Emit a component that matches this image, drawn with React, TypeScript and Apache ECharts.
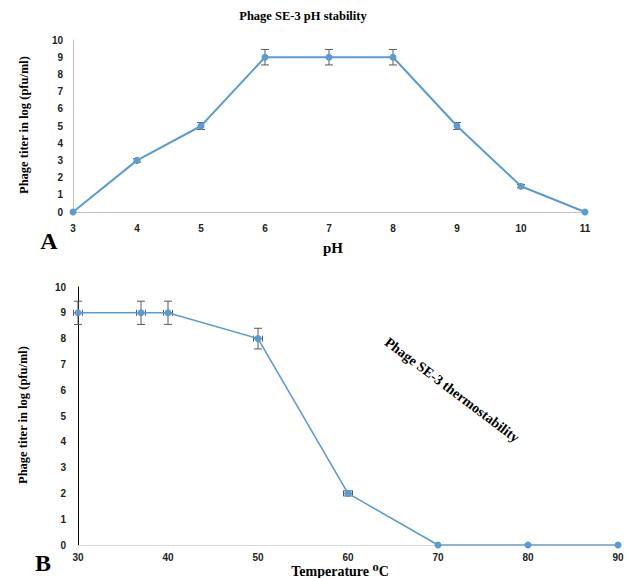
import React, { useEffect, useRef } from "react";
import * as echarts from "echarts";

const phLevels = [3, 4, 5, 6, 7, 8, 9, 10, 11];
const phTiter = [0, 3, 5, 9, 9, 9, 5, 1.5, 0];
const phErr = [0, 0.1, 0.2, 0.45, 0.45, 0.45, 0.2, 0.1, 0];

const temps = [30, 37, 40, 50, 60, 70, 80, 90];
const tempTiter = [9, 9, 9, 8, 2, 0, 0, 0];
const tempErrY = [0.45, 0.45, 0.45, 0.4, 0.1, 0, 0, 0];
const tempErrX = [0.5, 0.5, 0.5, 0.5, 0.5, 0, 0, 0];

const LINE = "#5b9bd5";
const ERR = "#595959";
const SERIF = "'Liberation Serif', 'DejaVu Serif', serif";
const SANS = "'Liberation Sans', Arial, sans-serif";

function errRender(cap: number) {
  return (params: any, api: any) => {
    const x = api.value(0);
    const y = api.value(1);
    const ey = api.value(2);
    const ex = api.value(3);
    const children: any[] = [];
    const style = { stroke: ERR, lineWidth: 1 };
    if (ey > 0) {
      const top = api.coord([x, y + ey]);
      const bot = api.coord([x, y - ey]);
      children.push(
        { type: "line", shape: { x1: top[0], y1: top[1], x2: bot[0], y2: bot[1] }, style },
        { type: "line", shape: { x1: top[0] - cap, y1: top[1], x2: top[0] + cap, y2: top[1] }, style },
        { type: "line", shape: { x1: bot[0] - cap, y1: bot[1], x2: bot[0] + cap, y2: bot[1] }, style }
      );
    }
    if (ex > 0) {
      const l = api.coord([x - ex, y]);
      const r = api.coord([x + ex, y]);
      children.push(
        { type: "line", shape: { x1: l[0], y1: l[1], x2: r[0], y2: r[1] }, style },
        { type: "line", shape: { x1: l[0], y1: l[1] - 3, x2: l[0], y2: l[1] + 3 }, style },
        { type: "line", shape: { x1: r[0], y1: r[1] - 3, x2: r[0], y2: r[1] + 3 }, style }
      );
    }
    return { type: "group", children };
  };
}

export default function App() {
  const ref = useRef<HTMLDivElement>(null);
  useEffect(() => {
    if (!ref.current) return;
    const chart = echarts.init(ref.current, undefined, { renderer: "svg" });
    const tickLabel = { fontFamily: SANS, fontWeight: "bold", fontSize: 10, color: "#222" };
    const option: any = {
      animation: false,
      backgroundColor: "#fff",
      grid: [
        { left: 73, right: 50, top: 40, bottom: 366 },
        { left: 78, right: 17, top: 287, bottom: 33 },
      ],
      xAxis: [
        {
          gridIndex: 0, type: "value", min: 3, max: 11, interval: 1,
          axisLine: { show: true, lineStyle: { color: "#bfbfbf" } },
          axisTick: { show: false }, splitLine: { show: false },
          axisLabel: { ...tickLabel, margin: 11 },
        },
        {
          gridIndex: 1, type: "value", min: 30, max: 90, interval: 10,
          axisLine: { show: true, lineStyle: { color: "#d9d9d9" } },
          axisTick: { show: false }, splitLine: { show: false },
          axisLabel: { ...tickLabel, margin: 7 },
        },
      ],
      yAxis: [
        {
          gridIndex: 0, type: "value", min: 0, max: 10, interval: 1,
          axisLine: { show: true, lineStyle: { color: "#bfbfbf" } },
          axisTick: { show: false }, splitLine: { show: false },
          axisLabel: { ...tickLabel, margin: 10 },
        },
        {
          gridIndex: 1, type: "value", min: 0, max: 10, interval: 1,
          axisLine: { show: true, lineStyle: { color: "#000" } },
          axisTick: { show: false }, splitLine: { show: false },
          axisLabel: { ...tickLabel, margin: 12 },
        },
      ],
      series: [
        {
          type: "custom", xAxisIndex: 0, yAxisIndex: 0, z: 1,
          data: phLevels.map((x, i) => [x, phTiter[i], phErr[i], 0]),
          renderItem: errRender(4),
        },
        {
          type: "line", xAxisIndex: 0, yAxisIndex: 0, z: 2,
          data: phLevels.map((x, i) => [x, phTiter[i]]),
          lineStyle: { color: LINE, width: 2 },
          itemStyle: { color: LINE },
          symbol: "circle", symbolSize: 7, showSymbol: true,
        },
        {
          type: "custom", xAxisIndex: 1, yAxisIndex: 1, z: 1,
          data: temps.map((x, i) => [x, tempTiter[i], tempErrY[i], tempErrX[i]]),
          renderItem: errRender(4),
        },
        {
          type: "line", xAxisIndex: 1, yAxisIndex: 1, z: 2,
          data: temps.map((x, i) => [x, tempTiter[i]]),
          lineStyle: { color: LINE, width: 1.6 },
          itemStyle: { color: LINE },
          symbol: "circle", symbolSize: 7, showSymbol: true,
        },
      ],
      graphic: [
        {
          type: "text", x: 303, y: 16,
          style: { text: "Phage SE-3 pH stability", font: `bold 12.5px ${SERIF}`, fill: "#000", align: "center", verticalAlign: "middle" },
        },
        {
          type: "text", x: 24, y: 125, rotation: Math.PI / 2,
          style: { text: "Phage titer in log (pfu/ml)", font: `bold 12.5px ${SERIF}`, fill: "#000", align: "center", verticalAlign: "middle" },
        },
        {
          type: "text", x: 333, y: 248,
          style: { text: "pH", font: `bold 15px ${SERIF}`, fill: "#000", align: "center", verticalAlign: "middle" },
        },
        {
          type: "text", x: 49, y: 241,
          style: { text: "A", font: `bold 24px ${SERIF}`, fill: "#000", align: "center", verticalAlign: "middle" },
        },
        {
          type: "text", x: 23, y: 415, rotation: Math.PI / 2,
          style: { text: "Phage titer in log (pfu/ml)", font: `bold 12.5px ${SERIF}`, fill: "#000", align: "center", verticalAlign: "middle" },
        },
        {
          type: "text", x: 340, y: 571,
          style: { text: "Temperature \u2070C", font: `bold 14px ${SERIF}`, fill: "#000", align: "center", verticalAlign: "middle" },
        },
        {
          type: "text", x: 43, y: 563,
          style: { text: "B", font: `bold 24px ${SERIF}`, fill: "#000", align: "center", verticalAlign: "middle" },
        },
        {
          type: "text", x: 452, y: 390, rotation: (-37 * Math.PI) / 180,
          style: { text: "Phage SE-3 thermostability", font: `bold 14px ${SERIF}`, fill: "#000", align: "center", verticalAlign: "middle" },
        },
      ],
    };
    chart.setOption(option);
    return () => chart.dispose();
  }, []);
  return (
    <div
      ref={ref}
      style={{ position: "absolute", left: 0, top: 0, width: 635, height: 578 }}
    />
  );
}
